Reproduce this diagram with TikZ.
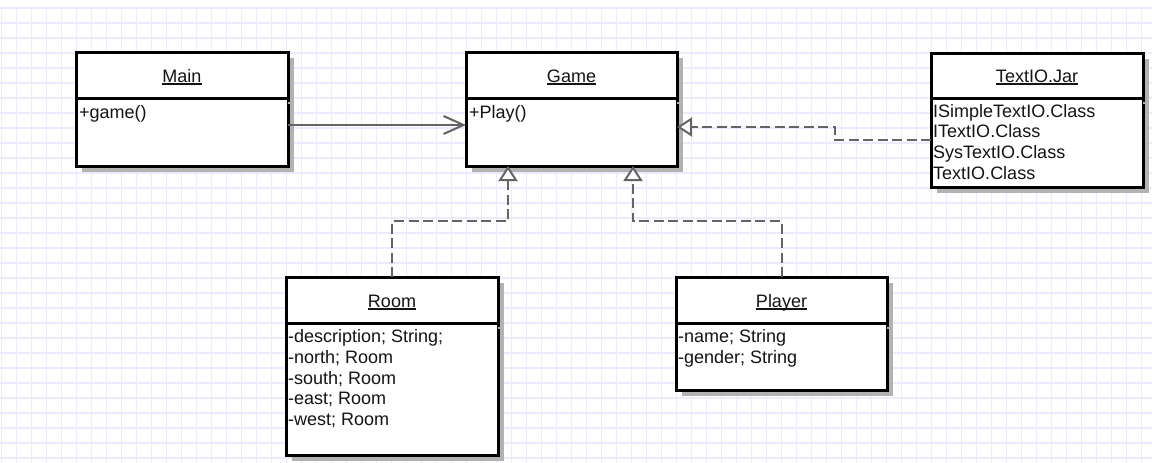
\documentclass[tikz,border=0pt]{standalone}
\usepackage{fontspec}
\setmainfont{Liberation Sans}
\usetikzlibrary{arrows.meta}
\definecolor{gridc}{RGB}{236,234,252}
\definecolor{conn}{RGB}{100,100,100}
\definecolor{shad}{RGB}{178,178,178}
\definecolor{txt}{RGB}{20,20,20}
\newcommand{\ulbl}[1]{\setbox0\hbox{#1}\rlap{\vrule height -1.4pt depth 2.6pt width \wd0}\box0}
\tikzset{
  classbox/.style={draw=black, line width=3pt, fill=white, inner sep=0pt, outer sep=0pt},
  titletext/.style={anchor=base, inner sep=0pt, text=txt, font=\fontsize{18}{21}\selectfont},
  bodytext/.style={anchor=base west, inner sep=0pt, text=txt, font=\fontsize{18}{21}\selectfont},
  connline/.style={draw=conn, line width=2pt},
  dashconn/.style={connline, dash pattern=on 10pt off 4.5pt},
  realize/.style={dashconn, -{Triangle[length=15pt,width=19pt,fill=white,line width=2pt]}},
  assoc/.style={connline, -{Straight Barb[length=20pt,width=18pt,line width=2pt]}}
}
% name, x1, y1, x2, y2, sepY, title
\newcommand{\umlbox}[7]{%
  \fill[shad] ({#2+6},{#3+6}) rectangle ({#4+6},{#5+6});
  \node[classbox, minimum width={#4-#2}, minimum height={#5-#3}, anchor=north west] (#1) at (#2,#3) {};
  \draw[shad, line width=1.5pt] (#4,{#6+5}) -- ({#4+6},{#6+5});
  \draw[black, line width=3pt] (#2,#6) -- (#4,#6);
  \node[titletext] (#1-title) at ({(#2+#4)/2},{#6-16}) {\ulbl{#7}};
}
\begin{document}
\begin{tikzpicture}[x=1pt,y=-1pt]
\useasboundingbox (0,0) rectangle (1152,463);
\fill[white] (0,0) rectangle (1152,463);
\foreach \i in {0,...,76} \draw[gridc, line width=1.3pt] ({1.7+15*\i},8) -- ({1.7+15*\i},463);
\foreach \j in {0,...,30} \draw[gridc, line width=1.3pt] (0,{8+15*\j}) -- (1152,{8+15*\j});

\umlbox{main}{76}{52}{288}{166}{98}{Main}
\node[bodytext] (main-l1) at (79,118) {+game()};

\umlbox{game}{466}{52}{677}{166}{98}{Game}
\node[bodytext] (game-l1) at (469,118) {+Play()};

\umlbox{textio}{931}{53}{1143}{187}{98}{TextIO.Jar}
\foreach \t [count=\k] in {{ISimpleTextIO.Class},{ITextIO.Class},{SysTextIO.Class},{TextIO.Class}}
  \node[bodytext] (textio-l\k) at (933,{117+(\k-1)*20.7}) {\t};

\umlbox{room}{286}{277}{498}{455}{323}{Room}
\foreach \t [count=\k] in {{-description; String;},{-north; Room},{-south; Room},{-east; Room},{-west; Room}}
  \node[bodytext] (room-l\k) at (288,{342.5+(\k-1)*20.75}) {\t};

\umlbox{player}{676}{277}{887}{390}{323}{Player}
\foreach \t [count=\k] in {{-name; String},{-gender; String}}
  \node[bodytext] (player-l\k) at (678,{342.5+(\k-1)*20.75}) {\t};

% connectors
\draw[assoc] ([yshift=-16pt]main.east) -- ([yshift=-16pt]game.west);
\draw[realize] ([yshift=-20pt]textio.west) -| ([xshift=158pt,yshift=-18pt]game.east) -- ([yshift=-18pt]game.east);
\draw[realize] (room.north) -- ++(0,-56) -| ([xshift=-63.5pt]game.south);
\draw[realize] (player.north) -- ++(0,-56) -| ([xshift=61.5pt]game.south);
\end{tikzpicture}
\end{document}
